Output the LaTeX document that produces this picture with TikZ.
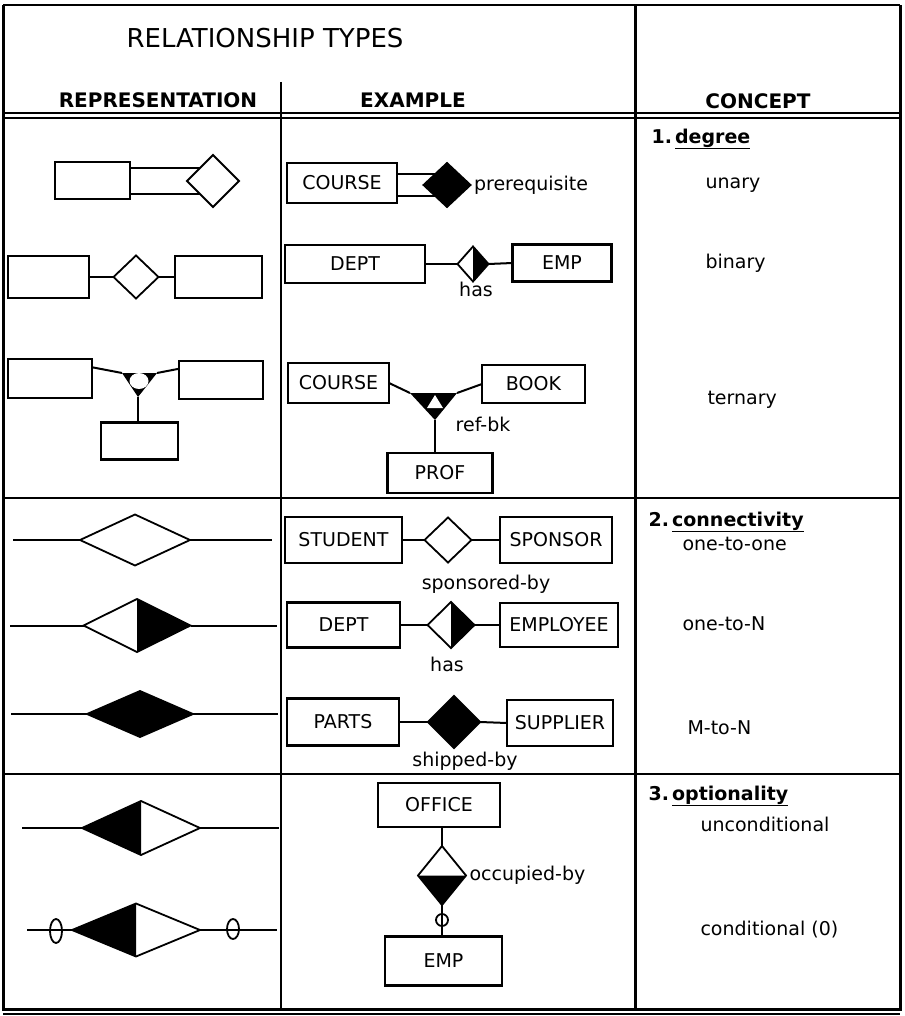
\documentclass[tikz,border=0pt]{standalone}
\usepackage{fontspec}
\setmainfont{DejaVu Sans}
\usetikzlibrary{shapes.geometric,positioning,calc}

\begin{document}
\begin{tikzpicture}[
    x=1pt, y=-1pt,
    every node/.style={font=\fontsize{19}{22}\selectfont},
    entity/.style={rectangle, draw, line width=2.2pt, inner sep=0pt, outer sep=0pt},
    rel/.style={diamond, draw, line width=1.8pt, fill=white, inner sep=0pt, outer sep=0pt},
    conn/.style={line width=2pt},
    heading/.style={font=\fontsize{20}{24}\selectfont\bfseries},
    concept/.style={anchor=west},
    node distance=0.2cm
]
\useasboundingbox (0,0) rectangle (904,1016);

% Table frame
\draw[line width=2pt] (3,5) -- (900,5);
\draw[line width=3pt] (3,5) -- (3,1009) -- (900,1009) -- (900,5);
\draw[line width=2pt] (3,1014) -- (900,1014);
\draw[line width=2pt] (3,113) -- (900,113);
\draw[line width=2pt] (3,118) -- (900,118);
\draw[line width=2.6pt] (3,498) -- (900,498);
\draw[line width=2.4pt] (3,774) -- (900,774);
\draw[line width=3pt] (635,5) -- (635,1009);
\draw[line width=2pt] (281,82) -- (281,1009);

% Headings
\node[font=\fontsize{26}{30}\selectfont] (title) at (265,38) {RELATIONSHIP TYPES};
\node[heading] (hrep) at (158,100) {REPRESENTATION};
\node[heading] (hex) at (413,100) {EXAMPLE};
\node[heading] (hcon) at (758,101) {CONCEPT};

% 1. degree -- representation
\node[entity, minimum width=75pt, minimum height=37pt] (uBox) at (92.5,180.5) {};
\node[rel, minimum width=52pt, minimum height=52pt] (uRel) at (213,181) {};
\draw[conn] (uBox.east |- uRel.135) -- (uRel.135);
\draw[conn] (uBox.east |- uRel.225) -- (uRel.225);

\node[entity, minimum width=81pt, minimum height=42pt] (bBoxA) at (48.5,277) {};
\node[rel, minimum width=45pt, minimum height=43pt] (bRel) at (136,277) {};
\node[entity, minimum width=87pt, minimum height=42pt] (bBoxB) at (218.5,277) {};
\draw[conn] (bBoxA.east) -- (bRel.west);
\draw[conn] (bRel.east) -- (bBoxB.west);

\node[entity, minimum width=84pt, minimum height=39pt] (tBoxA) at (50,378.5) {};
\node[entity, minimum width=84pt, minimum height=38pt] (tBoxB) at (221,380) {};
\node[entity, minimum width=77pt, minimum height=37pt] (tBoxC) at (139.5,441) {};
\coordinate (tL) at (122,373);
\coordinate (tR) at (157,373);
\coordinate (tB) at (138,397);
\fill (tL) -- (tR) -- (tB) -- cycle;
\node[ellipse, fill=white, minimum width=19pt, minimum height=16pt, inner sep=0pt] (tHole) at (139,381) {};
\draw[conn] (tBoxA.15) -- (tL);
\draw[conn] (tBoxB.165) -- (tR);
\draw[conn] (tB) -- (tB |- tBoxC.north);

% 1. degree -- example
\node[entity, minimum width=110pt, minimum height=40pt] (course) at (342,183) {COURSE};
\node[rel, fill=black, minimum width=47pt, minimum height=44pt] (prereq) at (447,185) {};
\node[right=0pt of prereq] (prereqLbl) {prerequisite};
\draw[conn] (course.east |- prereq.135) -- (prereq.135);
\draw[conn] (course.east |- prereq.225) -- (prereq.225);

\node[entity, minimum width=140pt, minimum height=38pt] (dept) at (355,264) {DEPT};
\node[rel, minimum width=31pt, minimum height=35pt] (has) at (473,264) {};
\node[entity, minimum width=99pt, minimum height=37pt] (emp) at (562,263) {EMP};
\node (hasLbl) at (476,289) {has};
\draw[conn] (dept.east) -- (has.west);
\draw[conn] (has.east) -- (emp.west);

\node[entity, minimum width=101pt, minimum height=40pt] (courseT) at (338.5,383) {COURSE};
\node[entity, minimum width=103pt, minimum height=38pt] (book) at (533.5,384) {BOOK};
\node[entity, minimum width=105pt, minimum height=40pt] (prof) at (440,473) {PROF};
\coordinate (rL) at (410,393);
\coordinate (rR) at (457,393);
\coordinate (rB) at (435,420);
\fill (rL) -- (rR) -- (rB) -- cycle;
\fill[white] (435,395) -- (443,408) -- (427,408) -- cycle;
\node (refLbl) at (483,424) {ref-bk};
\draw[conn] (courseT.east) -- (rL);
\draw[conn] (book.west) -- (rR);
\draw[conn] (rB) -- (rB |- prof.north);

% 2. connectivity -- representation
\coordinate (oneL) at (13,540);
\coordinate (oneR) at (272,540);
\node[rel, minimum width=110pt, minimum height=51pt] (oneRep) at (135,540) {};
\draw[conn] (oneL) -- (oneRep.west);
\draw[conn] (oneRep.east) -- (oneR);

\coordinate (nL) at (10,625.5);
\coordinate (nR) at (277,625.5);
\node[rel, minimum width=107pt, minimum height=53pt] (nRep) at (137,625.5) {};
\draw[conn] (nL) -- (nRep.west);
\draw[conn] (nRep.east) -- (nR);

\coordinate (mnL) at (11,714);
\coordinate (mnR) at (278,714);
\node[rel, fill=black, minimum width=106pt, minimum height=46pt] (mnRep) at (140,714) {};
\draw[conn] (mnL) -- (mnRep.west);
\draw[conn] (mnRep.east) -- (mnR);

% 2. connectivity -- example
\node[entity, minimum width=117pt, minimum height=46pt] (student) at (343.5,540) {STUDENT};
\node[rel, minimum width=47pt, minimum height=45pt] (sponsored) at (448,540) {};
\node[entity, minimum width=112pt, minimum height=46pt] (sponsor) at (556,540) {SPONSOR};
\node (sponsLbl) at (486,584) {sponsored-by};
\draw[conn] (student.east) -- (sponsored.west);
\draw[conn] (sponsored.east) -- (sponsor.west);

\node[entity, minimum width=113pt, minimum height=45pt] (deptB) at (343.5,625) {DEPT};
\node[rel, minimum width=47pt, minimum height=46pt] (hasB) at (451,625) {};
\node[entity, minimum width=118pt, minimum height=44pt] (employee) at (559,625) {EMPLOYEE};
\node (hasBLbl) at (447,664) {has};
\draw[conn] (deptB.east) -- (hasB.west);
\draw[conn] (hasB.east) -- (employee.west);

\node[entity, minimum width=112pt, minimum height=47pt] (parts) at (343,722) {PARTS};
\node[rel, fill=black, minimum width=52pt, minimum height=52pt] (shipped) at (454,722) {};
\node[entity, minimum width=106pt, minimum height=46pt] (supplier) at (560,723) {SUPPLIER};
\node (shipLbl) at (465,761) {shipped-by};
\draw[conn] (parts.east) -- (shipped.west);
\draw[conn] (shipped.east) -- (supplier.west);

% right half black = N side
\foreach \d in {has, nRep, hasB}
    \fill (\d.north) -- (\d.east) -- (\d.south) -- cycle;

% 3. optionality -- representation
\coordinate (ucL) at (22,828);
\coordinate (ucR) at (279,828);
\node[rel, minimum width=118pt, minimum height=54pt] (uncond) at (141,828) {};
\draw[conn] (ucL) -- (uncond.west);
\draw[conn] (uncond.east) -- (ucR);

\coordinate (cL) at (27,930);
\coordinate (cR) at (277,930);
\node[rel, minimum width=128pt, minimum height=53pt] (cond) at (136,930) {};
\draw[conn] (cL) -- (cond.west);
\draw[conn] (cond.east) -- (cR);
\node[ellipse, draw, line width=1.8pt, minimum width=12pt, minimum height=24pt, inner sep=0pt] (optL) at (56,931) {};
\node[ellipse, draw, line width=1.8pt, minimum width=12pt, minimum height=20pt, inner sep=0pt] (optR) at (233,929) {};

\foreach \d in {uncond, cond}
    \fill (\d.north) -- (\d.west) -- (\d.south) -- cycle;

% 3. optionality -- example
\node[entity, minimum width=122pt, minimum height=44pt] (office) at (439,805) {OFFICE};
\node[rel, minimum width=48pt, minimum height=59pt] (occupied) at (442,875.5) {};
\fill (occupied.west) -- (occupied.south) -- (occupied.east) -- cycle;
\node[right=0pt of occupied] (occLbl) {occupied-by};
\node[entity, minimum width=117pt, minimum height=49pt] (empO) at (443.5,961) {EMP};
\draw[conn] (occupied.north |- office.south) -- (occupied.north);
\draw[conn] (occupied.south) -- (occupied.south |- empO.north);
\node[circle, draw, line width=1.8pt, minimum size=12pt, inner sep=0pt] (optO) at (442,920) {};

% Concept column
\node[concept] (cDeg) at (648,139) {\textbf{1.\,\underline{degree}}};
\node[concept] (unary) at (702,185) {unary};
\node[concept] (binary) at (702,263) {binary};
\node[concept] (ternary) at (704,400) {ternary};

\node[concept] (cCon) at (645,522) {\textbf{2.\,\underline{connectivity}}};
\node[concept] (oneOne) at (679,544) {one-to-one};
\node[concept] (oneN) at (679,624) {one-to-N};
\node[concept] (mN) at (684,728) {M-to-N};

\node[concept] (cOpt) at (645,796) {\textbf{3.\,\underline{optionality}}};
\node[concept] (uncondLbl) at (697,824) {unconditional};
\node[concept] (condLbl) at (697,930) {conditional (0)};

\end{tikzpicture}
\end{document}
